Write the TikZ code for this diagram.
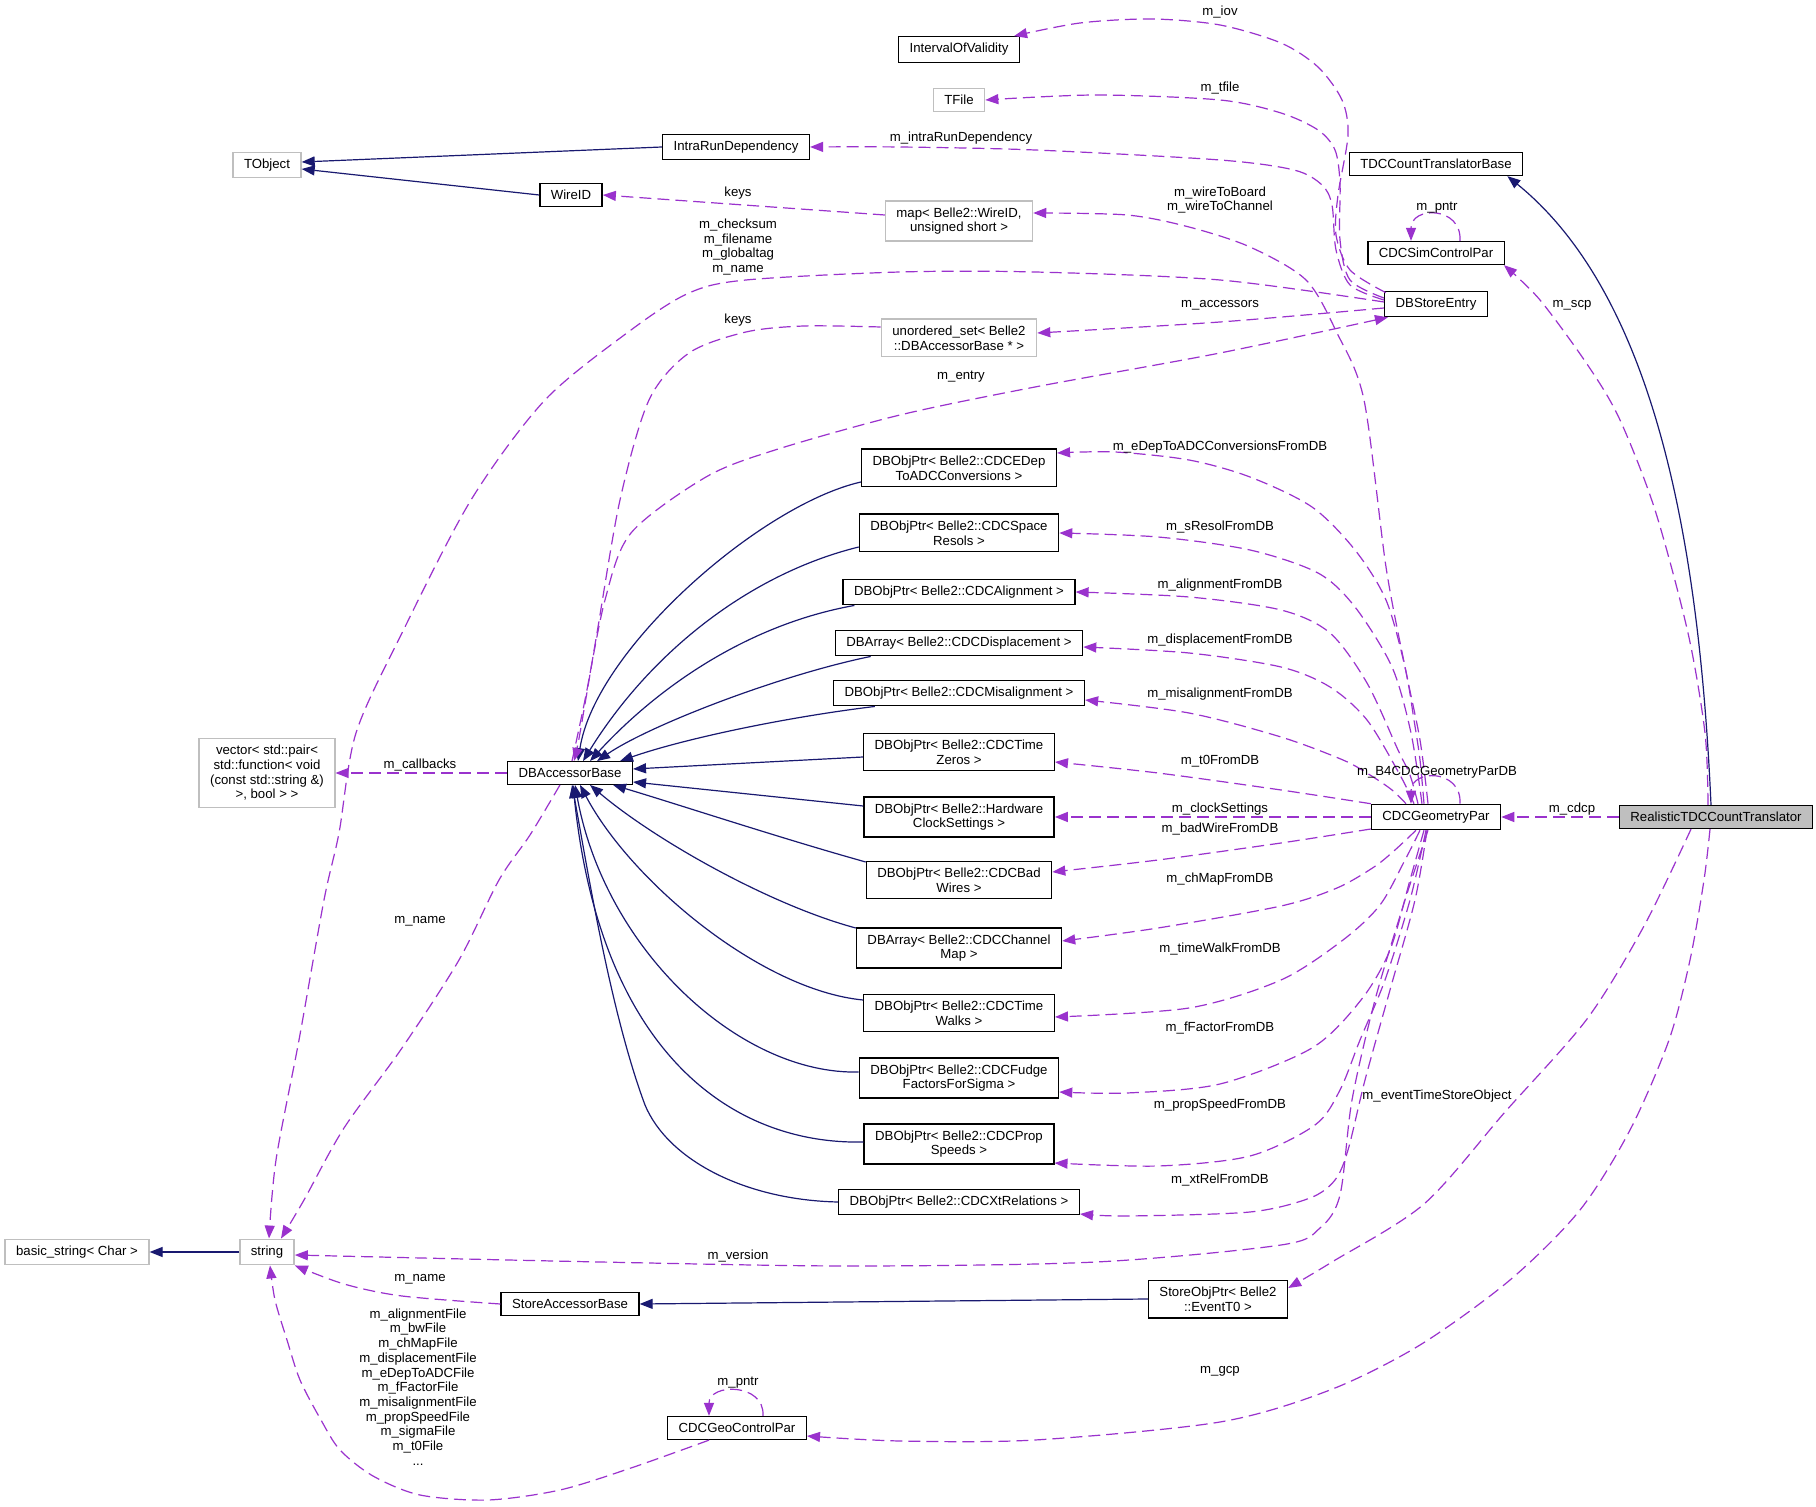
\documentclass[tikz,border=0pt]{standalone}
\usepackage{fontspec}
\setmainfont{Liberation Sans}
\usetikzlibrary{arrows.meta}
\definecolor{edgepurple}{HTML}{9A32CD}
\definecolor{inhblue}{HTML}{191970}
\definecolor{boxgrey}{HTML}{BFBFBF}
\begin{document}
\begin{tikzpicture}[x=0.5pt,y=-0.5pt,
  every node/.style={font=\fontsize{6.6}{7.35}\selectfont, align=center},
  cls/.style={draw=black, line width=0.7pt, inner xsep=5.5pt, inner ysep=3.3pt, fill=white},
  ext/.style={cls, draw=boxgrey},
  lbl/.style={inner sep=0pt},
  coll/.style={draw=edgepurple, line width=0.6pt, dash pattern=on 6pt off 3pt, -{Triangle[length=6.5pt,width=5pt]}},
  inh/.style={draw=inhblue, line width=0.6pt, -{Triangle[length=6.5pt,width=5pt]}}]
\path[fill=white] (0,0) rectangle (1816,1507);
\useasboundingbox (0,0) rectangle (1816,1507);
% nodes
\node[cls] (iov) at (959,49.5) {IntervalOfValidity};
\node[ext] (tfile) at (959,100) {TFile};
\node[cls] (ird) at (736,147) {IntraRunDependency};
\node[ext] (tobj) at (267,165) {TObject};
\node[cls] (wire) at (571,195) {WireID};
\node[ext] (map) at (959,221) {map< Belle2::WireID,\\unsigned short >};
\node[cls] (tdcb) at (1436,164) {TDCCountTranslatorBase};
\node[cls] (scp) at (1436,253) {CDCSimControlPar};
\node[cls] (dbse) at (1436,304) {DBStoreEntry};
\node[ext] (uset) at (959,338) {unordered\_set< Belle2\\::DBAccessorBase * >};
\node[cls] (edep) at (959,468) {DBObjPtr< Belle2::CDCEDep\\ToADCConversions >};
\node[cls] (space) at (959,533) {DBObjPtr< Belle2::CDCSpace\\Resols >};
\node[cls] (align) at (959,592) {DBObjPtr< Belle2::CDCAlignment >};
\node[cls] (displ) at (959,643) {DBArray< Belle2::CDCDisplacement >};
\node[cls] (misal) at (959,693) {DBObjPtr< Belle2::CDCMisalignment >};
\node[cls] (tzero) at (959,752) {DBObjPtr< Belle2::CDCTime\\Zeros >};
\node[cls] (clock) at (959,817) {DBObjPtr< Belle2::Hardware\\ClockSettings >};
\node[cls] (badw) at (959,880) {DBObjPtr< Belle2::CDCBad\\Wires >};
\node[cls] (chmap) at (959,948) {DBArray< Belle2::CDCChannel\\Map >};
\node[cls] (twalk) at (959,1013) {DBObjPtr< Belle2::CDCTime\\Walks >};
\node[cls] (fudge) at (959,1078) {DBObjPtr< Belle2::CDCFudge\\FactorsForSigma >};
\node[cls] (prop) at (959,1144) {DBObjPtr< Belle2::CDCProp\\Speeds >};
\node[cls] (xtrel) at (959,1202) {DBObjPtr< Belle2::CDCXtRelations >};
\node[cls] (dbab) at (570,773) {DBAccessorBase};
\node[ext] (vec) at (267,773) {vector< std::pair<\\std::function< void\\(const std::string \&)\\>, bool > >};
\node[cls] (cgp) at (1436,817) {CDCGeometryPar};
\node[cls, fill=boxgrey] (rtdc) at (1716,817) {RealisticTDCCountTranslator};
\node[ext] (bstr) at (77,1252) {basic\_string< Char >};
\node[ext] (str) at (267,1252) {string};
\node[cls] (sab) at (570,1304) {StoreAccessorBase};
\node[cls] (sop) at (1218,1299) {StoreObjPtr< Belle2\\::EventT0 >};
\node[cls] (gcp) at (737,1428) {CDCGeoControlPar};
% inheritance
\draw[inh] (ird.west) -- ([yshift=1.5pt]tobj.east);
\draw[inh] (wire.west) -- ([yshift=-2pt]tobj.east);
\draw[inh] (str.west) -- (bstr.east);
\draw[inh] (sop.west) -- (sab.east);
\draw[inh] ([xshift=-2.5pt]rtdc.north) .. controls (1700,560) and (1660,300) .. ([xshift=-8pt]tdcb.south east);
\draw[inh] ([yshift=-7pt]edep.west) .. controls (760,505) and (595,650) .. ([xshift=4pt]dbab.north);
\draw[inh] ([yshift=-7pt]space.west) .. controls (749,574) and (650,653) .. ([xshift=6.5pt]dbab.north);
\draw[inh] ([xshift=6pt]align.south west) .. controls (745,625) and (655,690) .. ([xshift=10pt]dbab.north);
\draw[inh] ([xshift=18pt]displ.south west) .. controls (780,675) and (650,725) .. ([xshift=13.5pt]dbab.north);
\draw[inh] ([xshift=21pt]misal.south west) .. controls (780,718) and (680,740) .. ([xshift=25pt]dbab.north);
\draw[inh] ([yshift=-2.5pt]tzero.west) -- ([yshift=2pt]dbab.east);
\draw[inh] ([yshift=5.5pt]clock.west) -- ([yshift=-4.5pt]dbab.east);
\draw[inh] ([yshift=9pt]badw.west) .. controls (780,838) and (680,805) .. ([xshift=21.5pt]dbab.south);
\draw[inh] ([yshift=10pt]chmap.west) .. controls (770,905) and (655,840) .. ([xshift=10pt]dbab.south);
\draw[inh] ([yshift=6.5pt]twalk.west) .. controls (760,990) and (630,880) .. ([xshift=5pt]dbab.south);
\draw[inh] ([yshift=3pt]fudge.west) .. controls (740,1075) and (605,950) .. ([xshift=2.5pt]dbab.south);
\draw[inh] ([yshift=1pt]prop.west) .. controls (730,1145) and (600,1050) .. ([xshift=1.5pt]dbab.south);
\draw[inh] (xtrel.west) .. controls (745,1200) and (668,1160) .. (645,1105) .. controls (610,1011) and (587,866) .. ([xshift=1pt]dbab.south);
% collaboration
\draw[coll] plot[smooth] coordinates {([xshift=1pt,yshift=-1pt]dbse.north west) (1350,270) (1336,235) (1338,195) (1348,135) (1342,100) (1318,67) (1281,43) (1220,25) (1152,19) (1080,23) ([xshift=-3pt]iov.north east)};
\draw[coll] plot[smooth] coordinates {([yshift=3pt]dbse.west) (1350,280) (1340,240) (1340,183) (1335,150) (1318,130) (1281,113) (1220,100) (1096,95) (tfile.east)};
\draw[coll] plot[smooth] coordinates {([yshift=2pt]dbse.west) (1350,285) (1336,250) (1332,205) (1322,185) (1294,170) (1220,160) (1035,150) (900,147) (ird.east)};
\draw[coll] plot[smooth] coordinates {([yshift=1pt]dbse.west) (1220,280) (1035,272) (900,272) (746,280) (689,293) (631,330) (545,400) (471,500) (402,633) (356,733) (339,833) (324,900) (299,1040) (276,1160) ([xshift=1pt]str.north)};
\draw[coll] plot[smooth] coordinates {([yshift=-2pt]dbse.west) (1220,322) ([yshift=2.5pt]uset.east)};
\draw[coll] plot[smooth] coordinates {([yshift=5.5pt]uset.west) (804,326) (746,332) (689,353) (649,400) (620,500) (597,633) (580,733) ([xshift=2pt]dbab.north)};
\draw[coll] plot[smooth] coordinates {([xshift=1pt]dbab.north) (585,700) (605,600) (631,533) (706,477) (775,450) (900,415) (1035,387) (1220,353) ([xshift=2pt]dbse.south west)};
\draw[coll] ([yshift=3pt]map.west) -- (wire.east);
\draw[coll] (dbab.west) -- (vec.east);
\draw[coll] plot[smooth] coordinates {([xshift=-5pt]dbab.south) (530,835) (499,880) (459,960) (402,1048) (344,1128) (304,1200) ([xshift=7pt]str.north)};
\draw[coll] plot[smooth] coordinates {(sab.west) (402,1296) (344,1284) (str.south east)};
\draw[coll] plot[smooth] coordinates {([xshift=-4pt]cgp.south) (1405,900) (1375,1000) (1352,1100) (1340,1195) (1320,1228) (1281,1245) (1096,1262) (850,1266) (600,1262) ([yshift=-1.5pt]str.east)};
\draw[coll] plot[smooth] coordinates {([xshift=-10pt]cgp.south) (1395,850) (1374,867) (1337,888) (1281,906) (1158,928) ([yshift=3.5pt]chmap.east)};
\draw[coll] plot[smooth] coordinates {([yshift=-6pt]cgp.west) (1281,843) (1158,860) ([yshift=4pt]badw.east)};
\draw[coll] plot[smooth] coordinates {([xshift=-8pt]cgp.south) (1405,860) (1380,905) (1343,940) (1281,980) (1189,1008) ([yshift=-2pt]twalk.east)};
\draw[coll] plot[smooth] coordinates {([xshift=-6pt]cgp.south) (1410,880) (1390,950) (1361,1000) (1312,1048) (1220,1084) (1127,1093) ([yshift=-7pt]fudge.east)};
\draw[coll] plot[smooth] coordinates {([xshift=-5pt]cgp.south) (1410,900) (1385,980) (1360,1040) (1340,1090) (1315,1125) (1250,1156) (1158,1166) ([yshift=-9.5pt]prop.east)};
\draw[coll] plot[smooth] coordinates {([xshift=-4.5pt]cgp.south) (1415,900) (1390,990) (1365,1080) (1348,1150) (1335,1180) (1310,1198) (1250,1212) (1127,1216) ([yshift=-6pt]xtrel.east)};
\draw[coll] plot[smooth] coordinates {([xshift=-6pt]cgp.north) (1420,760) (1414,720) (1405,667) (1386,600) (1355,550) (1312,507) (1250,477) (1189,460) (1115,452) ([yshift=7.5pt]edep.east)};
\draw[coll] plot[smooth] coordinates {([xshift=-7pt]cgp.north) (1411,733) (1392,667) (1355,607) (1318,573) (1250,550) (1158,537) (space.east)};
\draw[coll] plot[smooth] coordinates {([xshift=-9pt]cgp.north) (1410,775) (1398,750) (1367,683) (1330,633) (1281,610) (1189,597) (align.east)};
\draw[coll] plot[smooth] coordinates {([xshift=-11pt]cgp.north) (1400,775) (1367,720) (1330,687) (1281,667) (1189,653) ([yshift=-2pt]displ.east)};
\draw[coll] plot[smooth] coordinates {([xshift=-15pt]cgp.north) (1392,790) (1370,775) (1343,760) (1281,737) (1189,713) ([yshift=-3.5pt]misal.east)};
\draw[coll] plot[smooth] coordinates {(cgp.north west) (1281,790) (1158,773) ([yshift=-5pt]tzero.east)};
\draw[coll] (cgp.west) -- (clock.east);
\draw[coll] plot[smooth] coordinates {([xshift=-4pt]cgp.north) (1420,740) (1405,667) (1386,567) (1364,400) (1337,333) (1306,280) (1250,247) (1189,227) (1127,215) ([yshift=4pt]map.east)};
\draw[coll] ([xshift=12pt]cgp.north) .. controls +(2,-35) and +(0,-35) .. ([xshift=-12.5pt]cgp.north);
\draw[coll] ([xshift=12pt]scp.north) .. controls +(2,-35) and +(0,-35) .. ([xshift=-12.5pt]scp.north);
\draw[coll] ([xshift=13pt]gcp.north) .. controls +(2,-33) and +(0,-33) .. ([xshift=-14pt]gcp.north);
\draw[coll] plot[smooth] coordinates {([xshift=-4pt]rtdc.north) (1705,733) (1688,633) (1655,510) (1620,420) (1589,367) (1540,300) ([xshift=-0.5pt]scp.south east)};
\draw[coll] (rtdc.west) -- (cgp.east);
\draw[coll] plot[smooth] coordinates {([xshift=-12.5pt]rtdc.south) (1644,926) (1587,1019) (1505,1112) (1424,1204) (1332,1262) ([yshift=5.5pt]sop.east)};
\draw[coll] plot[smooth] coordinates {([xshift=-3pt]rtdc.south) (1704,880) (1690,960) (1669,1040) (1630,1130) (1580,1210) (1510,1280) (1420,1345) (1330,1390) (1220,1422) (1035,1440) (900,1441) ([yshift=-4pt]gcp.east)};
\draw[coll] plot[smooth] coordinates {([xshift=-14pt]gcp.south) (631,1468) (560,1490) (488,1500) (420,1495) (373,1476) (340,1450) (321,1420) (300,1380) (287,1340) (275,1300) ([xshift=1.5pt]str.south)};
% labels
\node[lbl] (l1) at (1220,12) {m\_iov};
\node[lbl] (l2) at (1220,88) {m\_tfile};
\node[lbl] (l3) at (961,138) {m\_intraRunDependency};
\node[lbl] (l4) at (738,193) {keys};
\node[lbl] (l5) at (1220,200) {m\_wireToBoard\\m\_wireToChannel};
\node[lbl] (l6) at (1437,208) {m\_pntr};
\node[lbl] (l7) at (738,247) {m\_checksum\\m\_filename\\m\_globaltag\\m\_name};
\node[lbl] (l8) at (738,320) {keys};
\node[lbl] (l9) at (1220,305) {m\_accessors};
\node[lbl] (l10) at (1572,305) {m\_scp};
\node[lbl] (l11) at (961,377) {m\_entry};
\node[lbl] (l12) at (1220,447) {m\_eDepToADCConversionsFromDB};
\node[lbl] (l13) at (1220,527) {m\_sResolFromDB};
\node[lbl] (l14) at (1220,585) {m\_alignmentFromDB};
\node[lbl] (l15) at (1220,640) {m\_displacementFromDB};
\node[lbl] (l16) at (1220,694) {m\_misalignmentFromDB};
\node[lbl] (l17) at (1220,761) {m\_t0FromDB};
\node[lbl] (l18) at (420,765) {m\_callbacks};
\node[lbl] (l19) at (1437,772) {m\_B4CDCGeometryParDB};
\node[lbl] (l20) at (1220,809) {m\_clockSettings};
\node[lbl] (l21) at (1572,809) {m\_cdcp};
\node[lbl] (l22) at (1220,829) {m\_badWireFromDB};
\node[lbl] (l23) at (1220,879) {m\_chMapFromDB};
\node[lbl] (l24) at (420,921) {m\_name};
\node[lbl] (l25) at (1220,949) {m\_timeWalkFromDB};
\node[lbl] (l26) at (1220,1028) {m\_fFactorFromDB};
\node[lbl] (l27) at (1437,1096) {m\_eventTimeStoreObject};
\node[lbl] (l28) at (1220,1105) {m\_propSpeedFromDB};
\node[lbl] (l29) at (1220,1180) {m\_xtRelFromDB};
\node[lbl] (l30) at (738,1256) {m\_version};
\node[lbl] (l31) at (420,1279) {m\_name};
\node[lbl] (l32) at (418,1387) {m\_alignmentFile\\m\_bwFile\\m\_chMapFile\\m\_displacementFile\\m\_eDepToADCFile\\m\_fFactorFile\\m\_misalignmentFile\\m\_propSpeedFile\\m\_sigmaFile\\m\_t0File\\...};
\node[lbl] (l33) at (738,1383) {m\_pntr};
\node[lbl] (l34) at (1220,1371) {m\_gcp};
\end{tikzpicture}
\end{document}
